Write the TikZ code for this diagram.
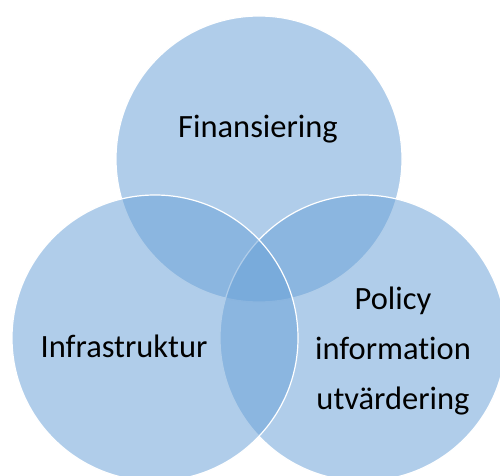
\documentclass[tikz,border=0pt]{standalone}
\usepackage{fontspec}
\setmainfont{Carlito}[Ligatures={NoCommon}]
\usepackage{tikz}
\usetikzlibrary{
    positioning,           % Relative positioning
    backgrounds            % Background layers
}
\definecolor{setblue}{RGB}{106,161,215}
\tikzset{setdisc/.style={
    circle, draw=white, line width=1.2pt,
    fill=setblue, fill opacity=0.53,
    minimum size=286pt, inner sep=0pt
}}
\tikzset{setlabel/.style={
    text=black, align=center, inner sep=0pt,
    font=\fontsize{32.5}{50}\selectfont
}}

\begin{document}
\begin{tikzpicture}[x=1pt,y=1pt]
    \useasboundingbox (0,0) rectangle (500,475);
    % the three sets
    \node[setdisc] (fin) at (259,316) {};
    \node[setdisc] (pol) at (363,137) {};
    \node[setdisc] (inf) at (155,137) {};
    % labels
    \node[setlabel, anchor=base] (finlabel) at (258,338) {Finansiering};
    \node[setlabel, anchor=base] (inflabel) at (124,118) {Infrastruktur};
    \node[setlabel] (pollabel) at (393,124) {Policy\\information\\utvärdering};
\end{tikzpicture}
\end{document}
